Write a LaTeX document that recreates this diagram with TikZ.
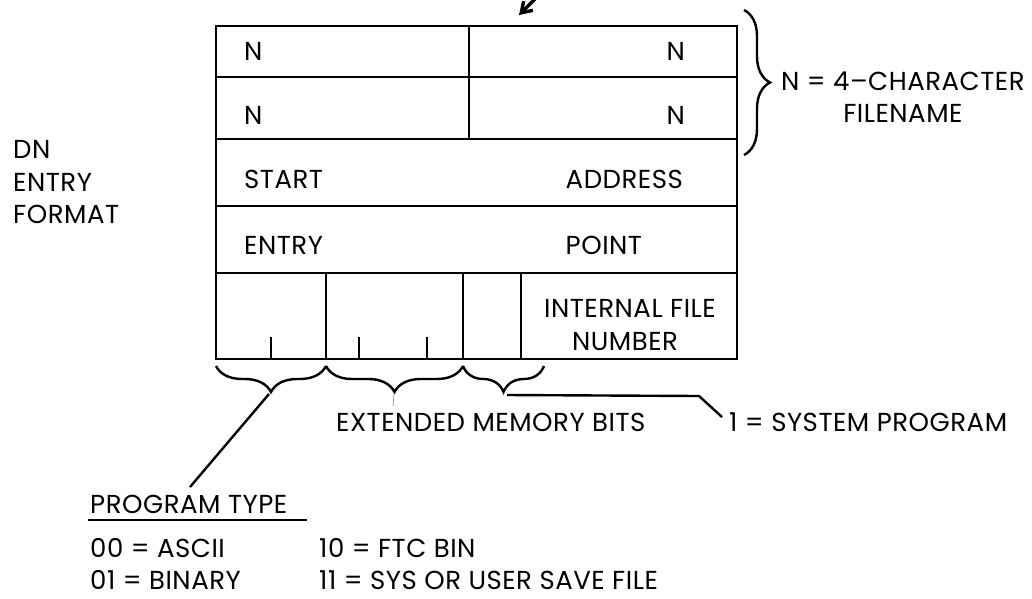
\documentclass[tikz,border=0pt]{standalone}
\usepackage{fontspec}
\setmainfont[LetterSpace=2]{Poppins}
\usetikzlibrary{decorations.pathreplacing,arrows.meta}
\begin{document}
\begin{tikzpicture}[x=1pt,y=-1pt,line width=2.4pt,
  lbl/.style={inner sep=0pt,font=\fontsize{26}{32}\selectfont},
  bracestyle/.style={decorate,decoration={brace,amplitude=26pt},line width=2.4pt},
  conn/.style={line width=2.4pt}]
\useasboundingbox (0,0) rectangle (1032,598);
% frame of the entry
\draw (216,26) rectangle (737,359);
\draw (216,77) -- (737,77);
\draw (216,139) -- (737,139);
\draw (216,206) -- (737,206);
\draw (216,273) -- (737,273);
\draw (469,26) -- (469,139);
\draw (326,273) -- (326,359);
\draw (463,273) -- (463,359);
\draw (521,273) -- (521,359);
% bit ticks
\draw (271,337) -- (271,359);
\draw (359,337) -- (359,359);
\draw (427,337) -- (427,359);
% cell texts
\node[lbl,anchor=base west] (n1) at (243,60) {N};
\node[lbl,anchor=base east] (n2) at (686,60) {N};
\node[lbl,anchor=base west] (n3) at (243,124) {N};
\node[lbl,anchor=base east] (n4) at (686,124) {N};
\node[lbl,anchor=base west] (start) at (243,188) {START};
\node[lbl,anchor=base east] (addr) at (684,188) {ADDRESS};
\node[lbl,anchor=base west] (entry) at (243,254) {ENTRY};
\node[lbl,anchor=base west] (point) at (addr.base west |- {0,254}) {POINT};
\node[lbl,anchor=base] (ifn1) at (630,317) {INTERNAL FILE};
\node[lbl,anchor=base] (ifn2) at (625,350) {NUMBER};
% title
\node[lbl,anchor=base west] (t1) at (12,158) {DN};
\node[lbl,anchor=base west] (t2) at (12,191) {ENTRY};
\node[lbl,anchor=base west] (t3) at (12,223) {FORMAT};
% filename brace
\draw[bracestyle] (744,10) -- (744,155);
\node[lbl,anchor=base west] (fn1) at (780,90) {N = 4--CHARACTER};
\path (fn1.base) ++(0,32) node[lbl,anchor=base] (fn2) {FILENAME};
% bottom braces
\draw[bracestyle] (326,366) -- (216,366);
\draw[bracestyle] (463,366) -- (326,366);
\draw[bracestyle] (544,366) -- (463,366);
\coordinate (tipA) at (269,394);
\coordinate (tipB) at (394,394);
\coordinate (tipC) at (507,395);
\draw[line width=0.6pt,gray] (tipB) -- (393,406);
% labels below
\node[lbl,anchor=base west] (emb) at (335,431) {EXTENDED MEMORY BITS};
\node[lbl,anchor=base west] (sys) at (728,431) {1 = SYSTEM PROGRAM};
\coordinate (bend) at (699,396);
\coordinate (sysend) at (722,417);
\draw[conn] (tipC) -- (bend) -- (sysend);
\node[lbl,anchor=base west] (ptype) at (89,513) {PROGRAM TYPE};
\coordinate (ptend) at (190,487);
\draw[conn] (tipA) -- (ptend);
\coordinate (ul1) at (88,520);
\coordinate (ul2) at (307,520);
\draw[line width=2pt] (ul1) -- (ul2);
\node[lbl,anchor=base west] (p00) at (89,557) {00 = ASCII};
\node[lbl,anchor=base west] (p01) at (89,589) {01 = BINARY};
\node[lbl,anchor=base west] (p10) at (318,557) {10 = FTC BIN};
\node[lbl,anchor=base west] (p11) at (318,589) {11 = SYS OR USER SAVE FILE};
% arrow at top
\coordinate (arrs) at (542,-8);
\coordinate (arre) at (519,15);
\draw[line width=3.4pt,-{Straight Barb[length=10pt,width=13pt]}] (arrs) -- (arre);
\end{tikzpicture}
\end{document}
